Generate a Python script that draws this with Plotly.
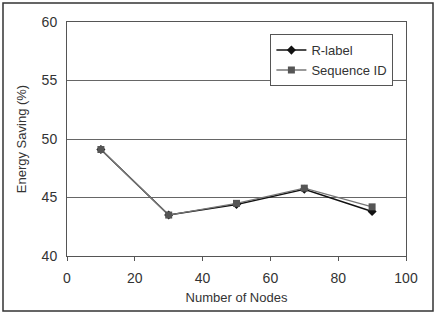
import plotly.graph_objects as go

nodes = [10, 30, 50, 70, 90]
r_label = [49.1, 43.5, 44.4, 45.7, 43.8]
sequence_id = [49.1, 43.5, 44.5, 45.8, 44.2]

W, H = 437, 315
L, R, T, B = 67, 31, 22, 59
pw, ph = W - L - R, H - T - B

fig = go.Figure()
fig.add_trace(go.Scatter(x=nodes, y=r_label, name="R-label", mode="lines+markers",
                         line=dict(color="#111111", width=1.5),
                         marker=dict(symbol="diamond", size=7, color="#111111")))
fig.add_trace(go.Scatter(x=nodes, y=sequence_id, name="Sequence ID", mode="lines+markers",
                         line=dict(color="#777777", width=1.3),
                         marker=dict(symbol="square", size=7, color="#555555")))

fig.update_layout(
    width=W, height=H,
    margin=dict(l=L, r=R, t=T, b=B),
    paper_bgcolor="white", plot_bgcolor="white",
    font=dict(family="Liberation Sans, Arial", size=14, color="#333333"),
    showlegend=True,
    legend=dict(x=0.6, y=0.948, xanchor="left", yanchor="top",
                bordercolor="#555555", borderwidth=1, bgcolor="white",
                font=dict(size=13), tracegroupgap=0, itemwidth=30),
    xaxis=dict(range=[0, 100], tickvals=[0, 20, 40, 60, 80, 100], showgrid=False,
               zeroline=False, showline=True, linecolor="#555555", mirror=True,
               ticks="outside", ticklen=4, tickcolor="#555555", ticklabelstandoff=5,
               title=dict(text="Number of Nodes", font=dict(size=13), standoff=8)),
    yaxis=dict(range=[40, 60], tickvals=[40, 45, 50, 55, 60], showgrid=True,
               gridcolor="#666666", gridwidth=1, zeroline=False, showline=True,
               linecolor="#555555", mirror=True, ticks="", ticklabelstandoff=6,
               title=dict(text="Energy Saving (%)", font=dict(size=13), standoff=12)),
    shapes=[dict(type="rect", xref="paper", yref="paper",
                 x0=-(L - 3) / pw, x1=1 + (R - 4) / pw,
                 y0=-(B - 4) / ph, y1=1 + (T - 3) / ph,
                 line=dict(color="#333333", width=1.5))],
)

fig.write_html("out.html", config={"displayModeBar": False},
               post_script="document.body.style.margin='0';")
